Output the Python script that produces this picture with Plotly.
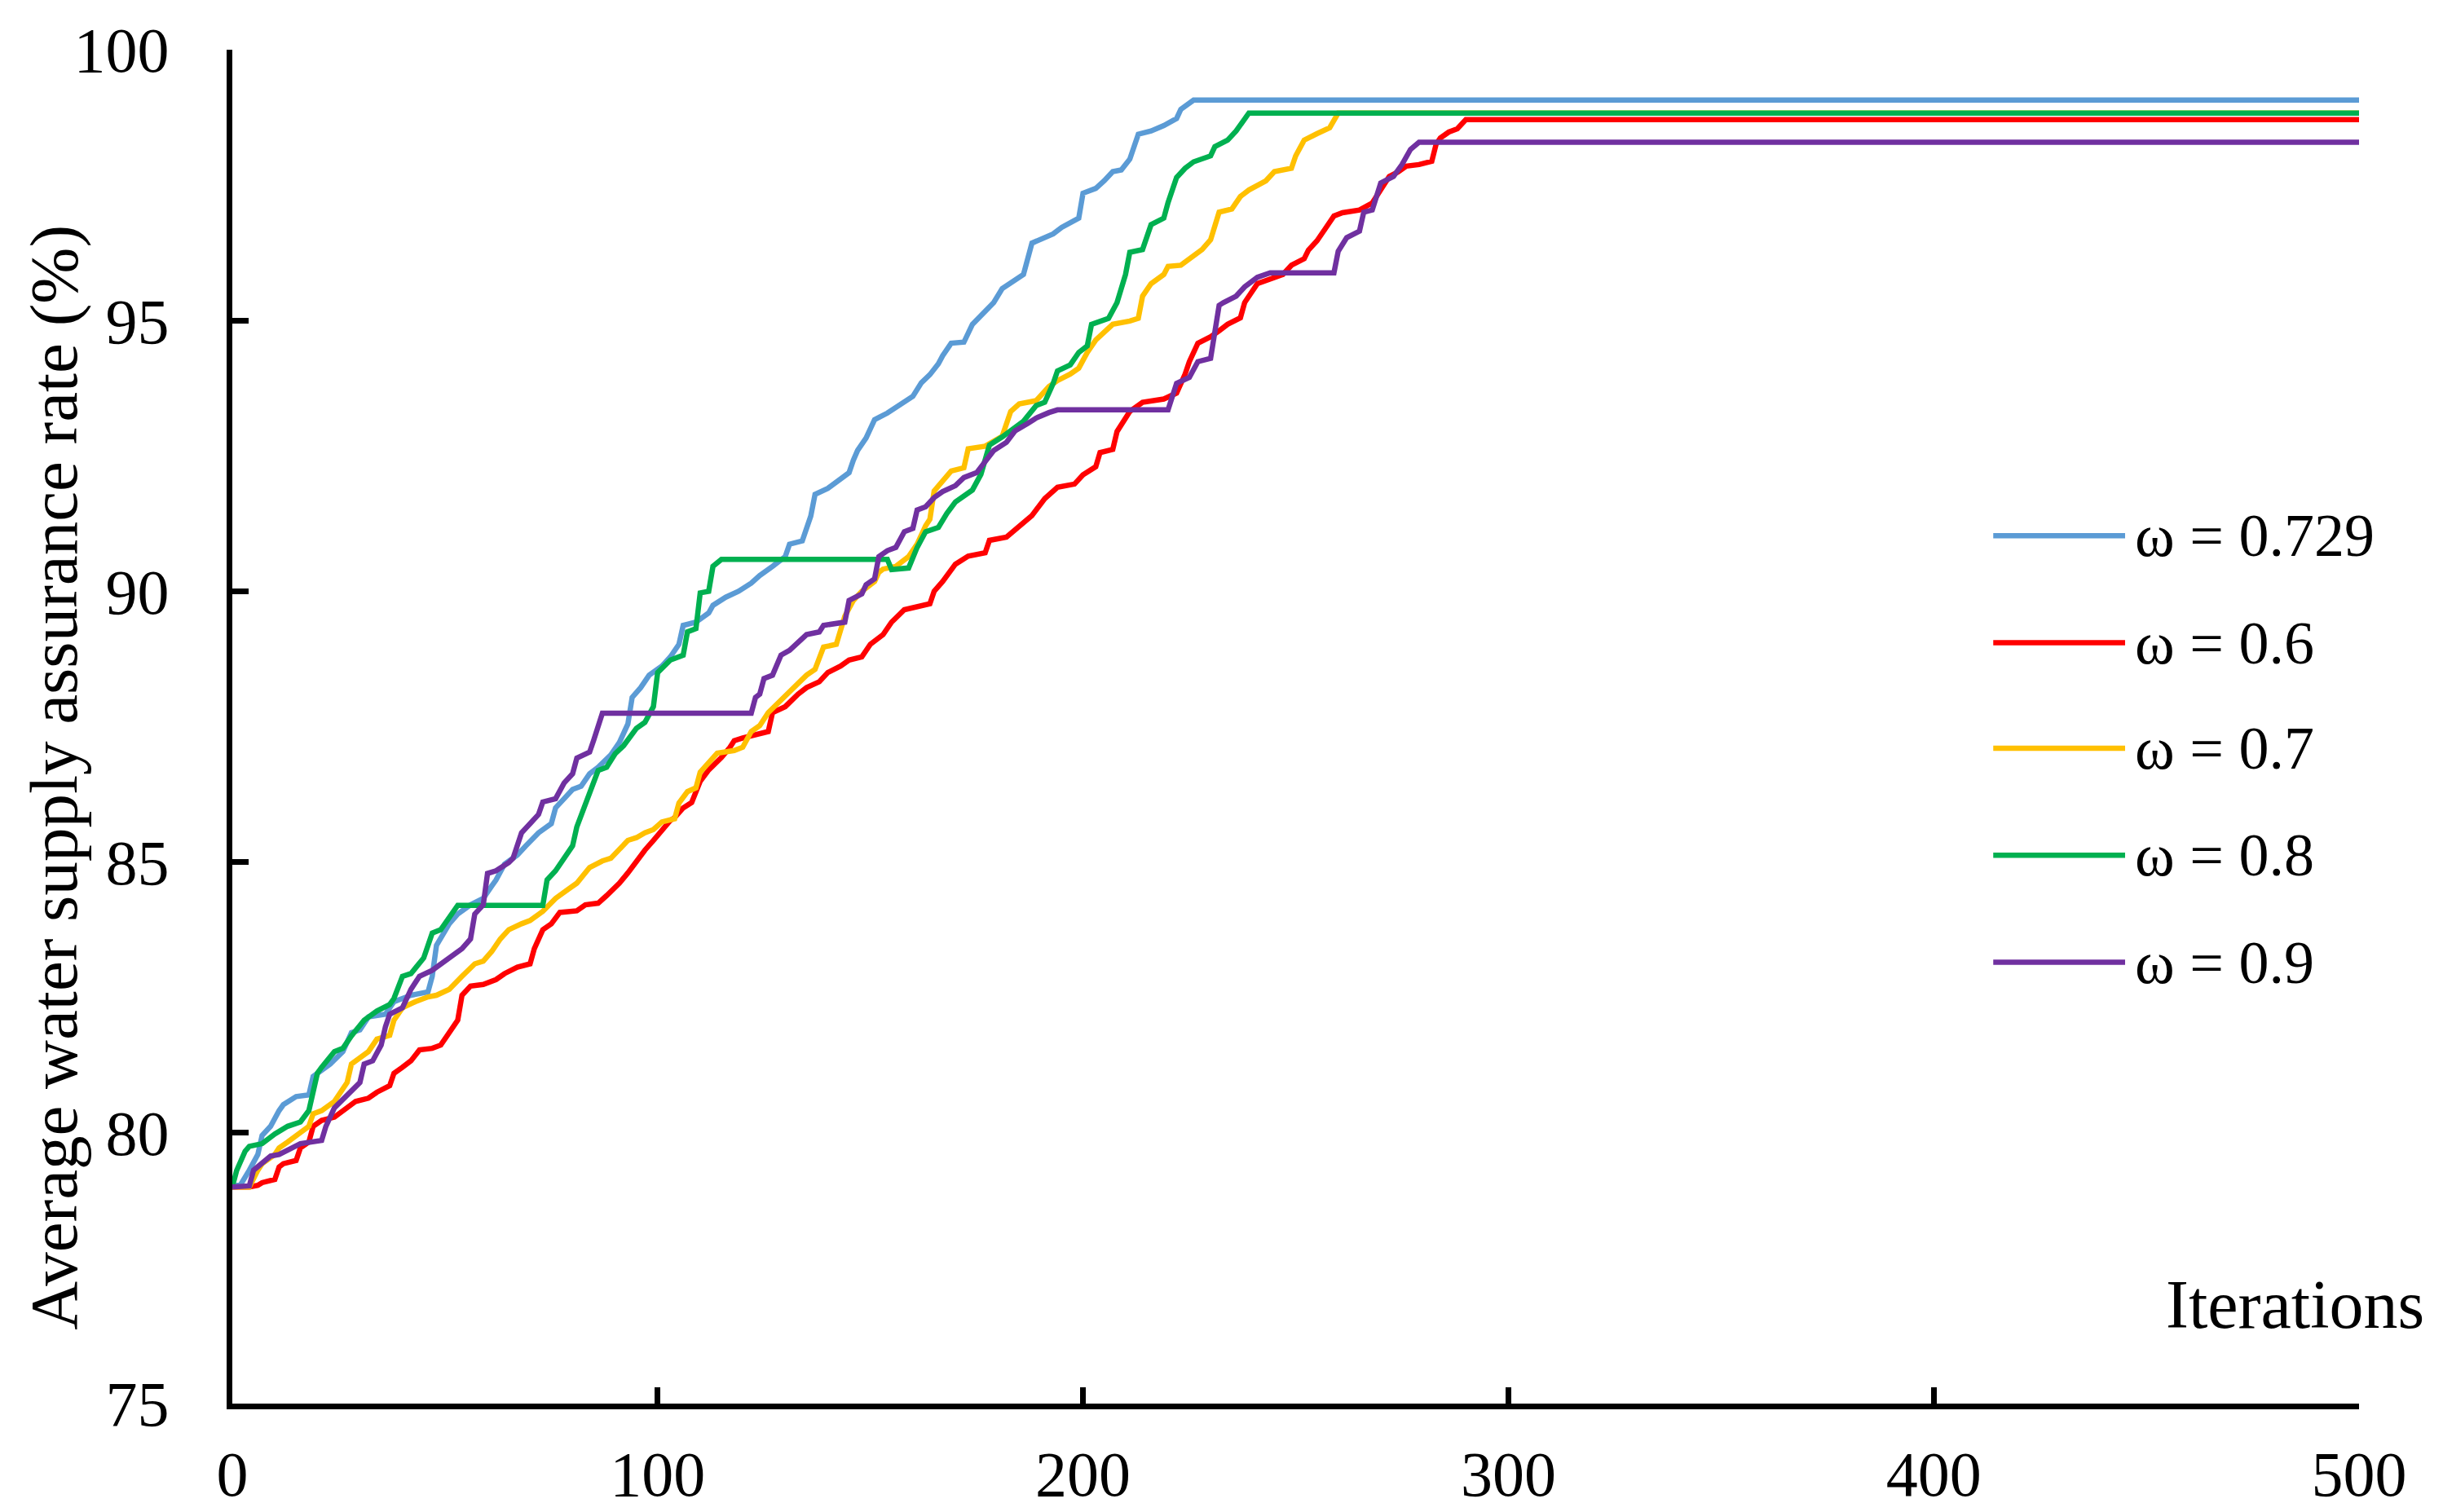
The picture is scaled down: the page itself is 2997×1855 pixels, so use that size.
import plotly.graph_objects as go

# Series data (iteration, average assurance rate %)
series_names = ['ω = 0.729', 'ω = 0.6', 'ω = 0.7', 'ω = 0.8', 'ω = 0.9']
series_colors = ['#5B9BD5', '#FF0000', '#FFC000', '#00B050', '#7030A0']

w0729_x = [0, 2, 4, 6, 7, 9, 11, 12, 15, 18, 19, 21, 23, 26, 28, 30, 32, 36, 38, 42, 46, 47, 48, 51, 53, 56, 59,
           61, 62, 64, 67, 69, 72, 75, 76, 78, 80, 82, 84, 86, 89, 91, 93, 94, 96, 98, 101, 103, 105, 106, 109, 112,
           113, 116, 119, 122, 124, 127, 130, 131, 134, 136, 137, 140, 142, 145, 146, 147, 149, 151, 154, 156, 158,
           160, 162, 164, 166, 167, 169, 172, 174, 177, 179, 181, 184, 186, 188, 191, 193, 195, 199, 200, 203, 205,
           207, 209, 211, 213, 216, 219, 222, 223, 226, 500]
w0729_y = [79.0, 79.05, 79.31, 79.6, 79.95, 80.12, 80.41, 80.52, 80.67, 80.7, 81.04, 81.16, 81.27, 81.5, 81.85, 81.9,
           82.14, 82.19, 82.42, 82.54, 82.6, 82.89, 83.46, 83.86, 84.04, 84.21, 84.33, 84.56, 84.67, 84.96, 85.13,
           85.3, 85.54, 85.71, 86.0, 86.17, 86.34, 86.4, 86.63, 86.75, 86.98, 87.21, 87.55, 88.04, 88.22, 88.45,
           88.62, 88.79, 89.02, 89.37, 89.43, 89.6, 89.74, 89.89, 90.0, 90.15, 90.29, 90.46, 90.64, 90.87, 90.93,
           91.39, 91.79, 91.9, 92.02, 92.19, 92.42, 92.6, 92.83, 93.17, 93.29, 93.4, 93.5, 93.6, 93.85, 94.0, 94.2,
           94.35, 94.58, 94.6, 94.93, 95.16, 95.33, 95.59, 95.74, 95.85, 96.43, 96.54, 96.6, 96.72, 96.89, 97.35,
           97.44, 97.58, 97.75, 97.78, 97.98, 98.44, 98.5, 98.6, 98.73, 98.9, 99.07, 99.07]

w06_x = [0, 4, 6, 7, 10, 11, 12, 15, 16, 18, 19, 21, 24, 26, 29, 32, 34, 37, 38, 40, 42, 44, 47, 49, 51, 53, 54, 56,
         59, 62, 64, 67, 70, 71, 73, 75, 77, 81, 83, 86, 88, 91, 93, 95, 97, 99, 101, 103, 104, 106, 108, 110, 112,
         115, 117, 118, 120, 123, 126, 127, 130, 133, 135, 138, 140, 143, 145, 148, 150, 153, 155, 158, 161, 164,
         165, 167, 170, 173, 177, 178, 182, 185, 188, 191, 194, 198, 200, 203, 204, 207, 208, 211, 214, 219, 222,
         224, 225, 227, 230, 232, 234, 237, 238, 241, 243, 245, 247, 249, 252, 253, 255, 257, 259, 261, 265, 268,
         270, 272, 274, 276, 279, 282, 283, 284, 286, 288, 290, 500]
w06_y = [79.0, 79.0, 79.03, 79.08, 79.14, 79.37, 79.43, 79.49, 79.72, 79.83, 80.12, 80.23, 80.29, 80.41, 80.58, 80.64,
         80.75, 80.87, 81.1, 81.21, 81.33, 81.53, 81.56, 81.62, 81.85, 82.08, 82.54, 82.71, 82.74, 82.83, 82.94,
         83.06, 83.12, 83.4, 83.75, 83.86, 84.07, 84.1, 84.21, 84.24, 84.38, 84.61, 84.8, 85.02, 85.22, 85.4, 85.6,
         85.77, 85.82, 86.0, 86.1, 86.49, 86.7, 86.93, 87.12, 87.24, 87.29, 87.35, 87.41, 87.76, 87.87, 88.1,
         88.22, 88.33, 88.5, 88.62, 88.73, 88.79, 89.02, 89.2, 89.43, 89.66, 89.71, 89.77, 90.0, 90.18, 90.5,
         90.65, 90.71, 90.94, 91.0, 91.2, 91.4, 91.71, 91.92, 91.98, 92.15, 92.3, 92.56, 92.62, 92.95, 93.32,
         93.49, 93.55, 93.66, 94.01, 94.24, 94.58, 94.7, 94.81, 94.93, 95.05, 95.33, 95.68, 95.74, 95.8, 95.85,
         96.02, 96.14, 96.3, 96.47, 96.7, 96.93, 96.99, 97.04, 97.17, 97.4, 97.66, 97.74, 97.85, 97.88, 97.94,
         98.25, 98.37, 98.48, 98.54, 98.71, 98.71]

w07_x = [0, 4, 6, 7, 10, 11, 13, 15, 18, 19, 21, 24, 26, 27, 28, 30, 32, 34, 36, 37, 38, 40, 43, 46, 48, 51, 54, 57,
         59, 61, 63, 65, 68, 70, 73, 76, 79, 81, 84, 87, 89, 91, 93, 95, 97, 99, 101, 104, 105, 107, 109, 110, 112,
         114, 118, 120, 122, 124, 126, 129, 131, 133, 135, 137, 139, 142, 143, 144, 146, 148, 151, 152, 153, 156,
         159, 161, 163, 164, 165, 168, 169, 172, 173, 177, 181, 183, 185, 189, 192, 194, 197, 199, 201, 203, 207,
         211, 213, 214, 216, 219, 220, 223, 226, 228, 230, 232, 235, 237, 239, 243, 245, 249, 250, 252, 255, 258,
         260, 500]
w07_y = [79.0, 79.0, 79.31, 79.43, 79.6, 79.72, 79.83, 79.95, 80.12, 80.35, 80.41, 80.58, 80.81, 80.93, 81.27, 81.39,
         81.5, 81.73, 81.79, 81.8, 82.08, 82.31, 82.42, 82.51, 82.54, 82.65, 82.89, 83.12, 83.17, 83.35, 83.58,
         83.75, 83.86, 83.92, 84.09, 84.33, 84.5, 84.61, 84.9, 85.02, 85.07, 85.25, 85.4, 85.45, 85.54, 85.6,
         85.74, 85.8, 86.09, 86.3, 86.37, 86.66, 86.83, 87.01, 87.06, 87.12, 87.41, 87.52, 87.76, 87.99, 88.16,
         88.33, 88.45, 88.56, 88.97, 89.02, 89.25, 89.54, 89.83, 90.0, 90.18, 90.35, 90.41, 90.46, 90.64, 90.87,
         91.21, 91.33, 91.85, 92.14, 92.22, 92.28, 92.63, 92.68, 92.86, 93.32, 93.46, 93.52, 93.78, 93.89, 94.01,
         94.12, 94.41, 94.64, 94.93, 94.99, 95.04, 95.45, 95.68, 95.85, 96.0, 96.02, 96.2, 96.31, 96.49, 97.0,
         97.06, 97.29, 97.41, 97.58, 97.75, 97.81, 98.04, 98.33, 98.45, 98.56, 98.83, 98.83]

w08_x = [0, 1, 3, 4, 7, 10, 13, 16, 18, 20, 21, 24, 26, 28, 31, 34, 37, 38, 40, 42, 45, 47, 49, 51, 53, 73, 74, 76,
         78, 80, 81, 84, 86, 88, 90, 92, 95, 97, 99, 100, 103, 106, 107, 109, 110, 112, 113, 115, 154, 155, 159,
         161, 163, 166, 168, 170, 172, 174, 176, 178, 181, 184, 186, 189, 191, 193, 194, 197, 199, 201, 202, 206,
         208, 210, 211, 214, 216, 219, 220, 222, 224, 226, 230, 231, 234, 236, 238, 239, 500]
w08_y = [79.0, 79.3, 79.66, 79.75, 79.8, 79.98, 80.12, 80.2, 80.41, 81.1, 81.21, 81.5, 81.56, 81.79, 82.08, 82.25,
         82.37, 82.48, 82.89, 82.94, 83.23, 83.69, 83.75, 83.98, 84.2, 84.2, 84.67, 84.84, 85.07, 85.3, 85.65,
         86.28, 86.69, 86.75, 87.0, 87.15, 87.47, 87.58, 87.87, 88.5, 88.73, 88.82, 89.25, 89.31, 89.97, 90.0,
         90.46, 90.59, 90.59, 90.4, 90.43, 90.81, 91.1, 91.18, 91.44, 91.65, 91.76, 91.87, 92.16, 92.7, 92.85,
         93.02, 93.14, 93.43, 93.49, 93.84, 94.07, 94.18, 94.41, 94.53, 94.93, 95.04, 95.33, 95.85, 96.26, 96.31,
         96.77, 96.89, 97.18, 97.64, 97.81, 97.93, 98.04, 98.21, 98.33, 98.5, 98.73, 98.83, 98.83]

w09_x = [0, 4, 5, 7, 9, 11, 14, 16, 21, 22, 24, 27, 29, 30, 31, 33, 35, 36, 37, 40, 42, 44, 47, 49, 52, 54, 56, 57,
         59, 60, 62, 65, 66, 68, 70, 72, 73, 76, 78, 80, 81, 84, 85, 87, 122, 123, 124, 125, 127, 129, 131, 134,
         135, 138, 139, 144, 145, 148, 149, 151, 152, 154, 156, 158, 160, 161, 163, 165, 167, 170, 172, 175, 177,
         179, 182, 184, 187, 189, 192, 194, 220, 222, 225, 227, 230, 232, 233, 236, 238, 241, 244, 259, 260, 262,
         265, 266, 268, 270, 273, 275, 277, 279, 500]
w09_y = [79.0, 79.02, 79.31, 79.43, 79.57, 79.6, 79.72, 79.8, 79.86, 80.12, 80.46, 80.7, 80.87, 80.93, 81.27, 81.33,
         81.62, 81.96, 82.19, 82.31, 82.65, 82.89, 83.0, 83.12, 83.29, 83.4, 83.58, 84.04, 84.21, 84.79, 84.84,
         84.99, 85.07, 85.54, 85.71, 85.88, 86.11, 86.17, 86.46, 86.63, 86.92, 87.03, 87.26, 87.75, 87.75, 88.04,
         88.1, 88.39, 88.45, 88.82, 88.91, 89.14, 89.2, 89.25, 89.37, 89.43, 89.83, 89.95, 90.12, 90.23, 90.64,
         90.75, 90.81, 91.1, 91.16, 91.5, 91.56, 91.73, 91.84, 91.95, 92.1, 92.19, 92.4, 92.6, 92.75, 92.96, 93.1,
         93.2, 93.3, 93.35, 93.35, 93.84, 93.95, 94.24, 94.3, 95.28, 95.33, 95.45, 95.62, 95.8, 95.88, 95.88,
         96.28, 96.53, 96.65, 97.0, 97.04, 97.54, 97.66, 97.88, 98.16, 98.29, 98.29]

series_x = [w0729_x, w06_x, w07_x, w08_x, w09_x]
series_y = [w0729_y, w06_y, w07_y, w08_y, w09_y]

x_ticks = [0, 100, 200, 300, 400, 500]
y_ticks = [75, 80, 85, 90, 95, 100]

font_family = 'Times New Roman, Liberation Serif, serif'

fig = go.Figure()
for name, color, xs, ys in zip(series_names, series_colors, series_x, series_y):
    fig.add_trace(go.Scatter(x=xs, y=ys, mode='lines', name=name,
                             line=dict(color=color, width=6.5), showlegend=False))

# Legend drawn by hand so the sample lines are as long as in the original
legend_rows = [0.641, 0.562, 0.484, 0.405, 0.326]
for name, color, row in zip(series_names, series_colors, legend_rows):
    fig.add_shape(type='line', xref='paper', yref='paper', x0=0.828, x1=0.890, y0=row, y1=row,
                  line=dict(color=color, width=6.5))
    fig.add_annotation(xref='paper', yref='paper', x=0.894, y=row, text=name, showarrow=False,
                       xanchor='left', yanchor='middle', font=dict(size=74, color='black'))

# Axis titles
fig.add_annotation(xref='paper', yref='paper', x=-0.084, y=0.4625, text='Average water supply assurance rate (%)',
                   textangle=-90, showarrow=False, xanchor='center', yanchor='middle',
                   font=dict(size=83, color='black'))
fig.add_annotation(xref='paper', yref='paper', x=0.970, y=0.073, text='Iterations', showarrow=False,
                   xanchor='center', yanchor='middle', font=dict(size=84, color='black'))

axis_style = dict(showline=True, linewidth=7, linecolor='black', ticks='inside', ticklen=20, tickwidth=7,
                  tickcolor='black', showgrid=False, zeroline=False, automargin=False,
                  tickfont=dict(size=78, color='black'))
fig.update_xaxes(range=[0, 500], tickvals=x_ticks, ticklabelstandoff=12, **axis_style)
fig.update_yaxes(range=[75, 100], tickvals=y_ticks, ticklabelstandoff=55, **axis_style)

fig.update_layout(width=2997, height=1855, margin=dict(l=277, r=111, t=53, b=141, pad=0),
                  paper_bgcolor='white', plot_bgcolor='white',
                  font=dict(family=font_family, color='black'))

fig.write_html('out.html')
